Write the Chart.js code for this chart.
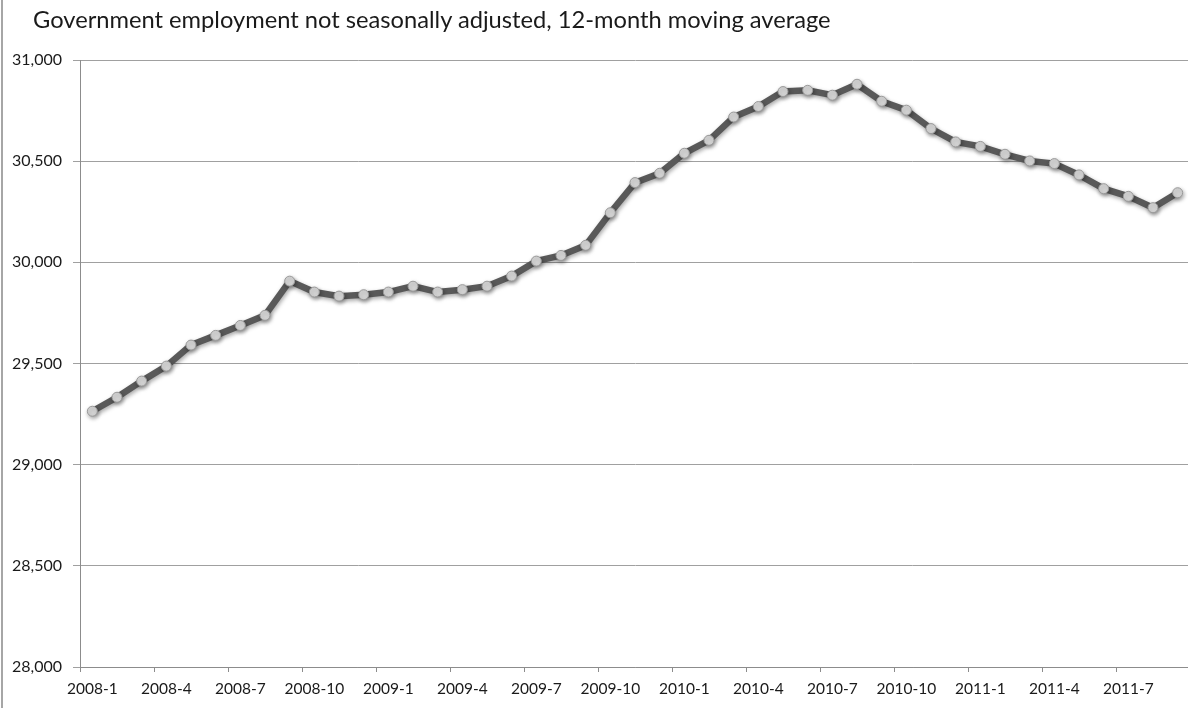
<!DOCTYPE html>
<html>
<head>
<meta charset="utf-8">
<script src="https://cdn.jsdelivr.net/npm/chart.js@4.4.1/dist/chart.umd.min.js"></script>
<style>
  html, body { margin: 0; padding: 0; background: #fff; overflow: hidden; }
  #wrap { position: relative; width: 1196px; height: 708px; }
  #edge { position: absolute; left: 1px; top: 0; width: 2px; height: 708px; background: #a6a6a6; }
  #title { position: absolute; left: 33px; top: 5px; font: 23.7px Lato, sans-serif; color: #1a1a1a; white-space: nowrap; }
</style>
</head>
<body>
<div id="wrap">
  <div id="edge"></div>
  <div id="title">Government employment not seasonally adjusted, 12-month moving average</div>
  <canvas id="lineChart" width="1196" height="708"></canvas>
</div>
<script>
// months 2008-1 .. 2011-9
const months = [];
for (let y = 2008; y <= 2011; y++) {
  for (let m = 1; m <= 12; m++) {
    if (y === 2011 && m > 9) break;
    months.push(y + '-' + m);
  }
}

// government employment (thousands), 12-month moving average
const employment = [
  29264, 29333, 29413, 29487, 29591, 29639, 29688, 29738, 29907, 29853, 29833, 29840,
  29853, 29882, 29853, 29865, 29882, 29932, 30006, 30034, 30084, 30245, 30394, 30440,
  30539, 30603, 30718, 30770, 30844, 30850, 30826, 30880, 30796, 30752, 30661, 30595,
  30573, 30534, 30501, 30488, 30432, 30364, 30326, 30270, 30344
];

const yTicks = [28000, 28500, 29000, 29500, 30000, 30500, 31000];

// soft shadow under the line and markers, like the Excel original
const shadowPlugin = {
  id: 'shadow',
  beforeDatasetsDraw(chart) {
    const ctx = chart.ctx;
    ctx.save();
    ctx.shadowColor = 'rgba(0,0,0,0.35)';
    ctx.shadowBlur = 4;
    ctx.shadowOffsetX = 1;
    ctx.shadowOffsetY = 2;
  },
  afterDatasetsDraw(chart) {
    chart.ctx.restore();
  }
};

function createLineChart() {
  const ctx = document.getElementById('lineChart');
  new Chart(ctx, {
    type: 'line',
    data: {
      labels: months,
      datasets: [{
        data: employment,
        borderColor: '#595959',
        borderWidth: 6.5,
        tension: 0,
        pointRadius: 5,
        pointBackgroundColor: '#d6d6d6',
        pointBorderColor: '#9a9a9a',
        pointBorderWidth: 1
      }]
    },
    options: {
      responsive: false,
      animation: false,
      layout: { padding: { left: 0, right: 2, top: 60, bottom: 0 } },
      plugins: {
        legend: { display: false },
        tooltip: { enabled: false },
        title: { display: false }
      },
      scales: {
        x: {
          offset: true,
          afterFit(scale) { scale.height = 41; },
          border: { color: '#8c8c8c', width: 1 },
          grid: {
            offset: true,
            drawOnChartArea: false,
            tickLength: 5,
            color: (c) => (c.index % 3 === 0 ? '#8c8c8c' : 'rgba(0,0,0,0)')
          },
          ticks: {
            autoSkip: false,
            maxRotation: 0,
            padding: 8,
            color: '#1a1a1a',
            font: { family: 'Lato', size: 15.5 },
            callback: function(v, i) { return i % 3 === 0 ? months[i] : ''; }
          }
        },
        y: {
          min: yTicks[0],
          max: yTicks[yTicks.length - 1],
          afterFit(scale) { scale.width = 80; },
          afterBuildTicks(scale) { scale.ticks = yTicks.map(v => ({ value: v })); },
          border: { color: '#8c8c8c', width: 1 },
          grid: { color: '#a0a0a0', lineWidth: 1, tickLength: 7 },
          ticks: {
            padding: 11,
            color: '#1a1a1a',
            font: { family: 'Lato', size: 16 },
            callback: (v) => v.toLocaleString('en-US')
          }
        }
      }
    },
    plugins: [shadowPlugin]
  });
}

createLineChart();
</script>
</body>
</html>
